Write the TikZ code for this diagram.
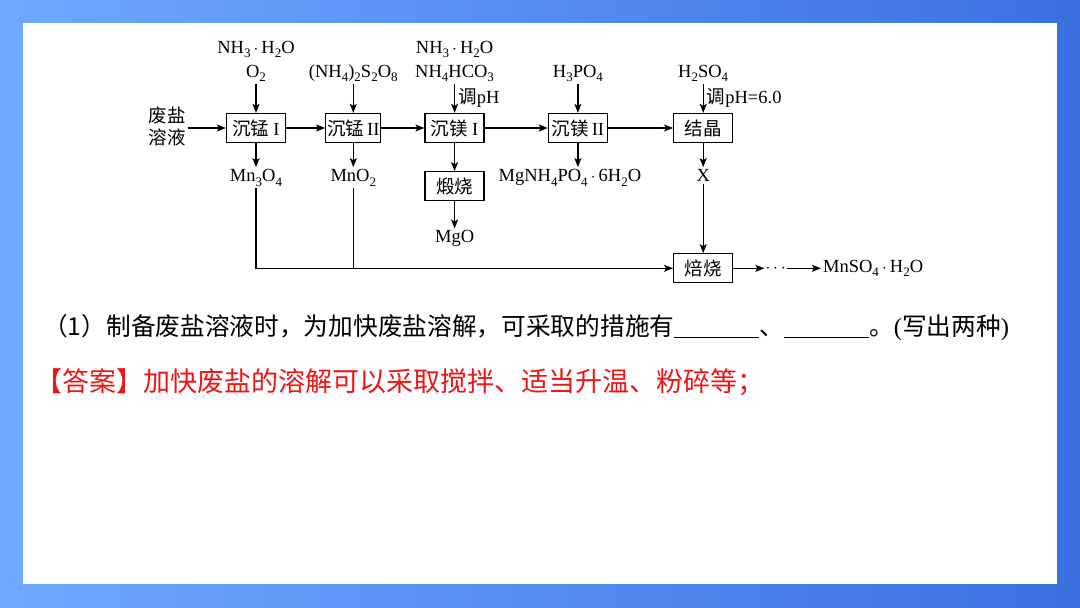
\documentclass[tikz,border=0pt]{standalone}
\usepackage{fontspec}
\setmainfont{Liberation Serif}
\newfontfamily\cjk{Noto Sans CJK SC}
\usetikzlibrary{positioning,arrows.meta}
\definecolor{bgleft}{HTML}{6FA8FF}
\definecolor{bgright}{HTML}{3C70E2}
\definecolor{ansred}{HTML}{F01414}
\newcommand{\sbs}[1]{\raisebox{-4.5pt}{\fontsize{13}{13}\selectfont #1}}
\newcommand{\hdot}{\,$\cdot$\,}

\begin{document}
\begin{tikzpicture}[x=1pt, y=-1pt, font=\fontsize{18.5}{24}\selectfont, node distance=39pt]
    \tikzstyle{proc}=[draw, line width=1.3pt, minimum width=59pt, minimum height=29pt,
                      inner sep=0pt, font=\fontsize{18.5}{22}\selectfont\cjk]
    \tikzstyle{chem}=[inner sep=2pt, align=center]
    \tikzstyle{arrow}=[line width=1.3pt, -{Stealth[length=9pt,width=7pt,inset=2pt]}]
    \tikzstyle{wire}=[line width=1.3pt]

    % background and panel
    \shade[left color=bgleft, right color=bgright] (0,0) rectangle (1080,608);
    \fill[white] (23,23) rectangle (1057,584);
    \useasboundingbox (0,0) rectangle (1080,608);

    % main line of steps
    \node[proc] (mnA) at (256,128) {沉锰\ \rmfamily I};
    \node[proc, minimum width=55pt, right=39pt of mnA] (mnB) {沉锰\,\rmfamily II};
    \node[proc, right=43pt of mnB] (mgA) {沉镁\ \rmfamily I};
    \node[proc, right=63pt of mgA] (mgB) {沉镁\,\rmfamily II};
    \node[proc, right=65pt of mgB] (cry) {结晶};
    \node[proc, below=28pt of mgA] (calc) {煅烧};
    \node[proc, below=110pt of cry] (roast) {焙烧};
    \node[inner sep=2pt, align=center, font=\fontsize{18.5}{22}\selectfont\cjk,
          left=38pt of mnA, yshift=2pt] (feed) {废盐\\溶液};

    % reagents
    \node[chem, above=29pt of mnA] (inA) {NH\sbs3\hdot H\sbs2O\\O\sbs2};
    \node[chem, above=29pt of mnB] (inB) {(NH\sbs4)\sbs2S\sbs2O\sbs8};
    \node[chem, above=29pt of mgA] (inC) {NH\sbs3\hdot H\sbs2O\\NH\sbs4HCO\sbs3};
    \node[chem, above=29pt of mgB] (inD) {H\sbs3PO\sbs4};
    \node[chem, above=29pt of cry] (inE) {H\sbs2SO\sbs4};

    % products
    \node[chem, below=24pt of mnA] (outA) {Mn\sbs3O\sbs4};
    \node[chem, below=24pt of mnB] (outB) {MnO\sbs2};
    \node[chem, below=24pt of mgB, xshift=-8pt] (outD) {MgNH\sbs4PO\sbs4\hdot 6H\sbs2O};
    \node[chem, below=24pt of cry] (outE) {X};
    \node[chem, below=27pt of calc] (mgo) {MgO};
    \node[inner sep=1pt, right=31pt of roast] (dots) {$\cdots$};
    \node[chem, right=34pt of dots] (prod) {MnSO\sbs4\hdot H\sbs2O};

    \draw[arrow] (feed.east |- mnA.west) -- (mnA.west);
    \draw[arrow] (mnA) -- (mnB);
    \draw[arrow] (mnB) -- (mgA);
    \draw[arrow] (mgA) -- (mgB);
    \draw[arrow] (mgB) -- (cry);

    \draw[arrow] (inA) -- (mnA);
    \draw[arrow] (inB) -- (mnB);
    \draw[arrow] (inC) -- node[right, inner sep=3pt]{{\cjk 调}pH} (mgA);
    \draw[arrow] (inD) -- (mgB);
    \draw[arrow] (inE) -- node[right, inner sep=3pt]{{\cjk 调}pH=6.0} (cry);

    \draw[arrow] (mnA) -- (outA);
    \draw[arrow] (mnB) -- (outB);
    \draw[arrow] (mgA) -- (calc);
    \draw[arrow] (calc) -- (mgo);
    \draw[arrow] (mgB.south) -- (mgB.south |- outD.north);
    \draw[arrow] (cry) -- (outE);

    \draw[arrow] (outA.south) |- (roast.west);
    \draw[wire] (outB.south) -- (outB.south |- roast.west);
    \draw[arrow] (outE) -- (roast);
    \draw[arrow] (roast) -- (dots);
    \draw[arrow] (dots) -- (prod);

    % question and answer
    \node[anchor=west, inner sep=0pt, font=\fontsize{24.7}{28}\selectfont\cjk] (quest) at (43,328)
         {（1）制备废盐溶液时，为加快废盐溶解，可采取的措施有\underline{\hspace{85pt}}、\underline{\hspace{85pt}}。{\rmfamily(}写出两种{\rmfamily)}};
    \node[anchor=west, inner sep=0pt, text=ansred, font=\fontsize{27}{30}\selectfont\cjk] (ans) at (35,382)
         {【答案】加快废盐的溶解可以采取搅拌、适当升温、粉碎等；};
\end{tikzpicture}
\end{document}
